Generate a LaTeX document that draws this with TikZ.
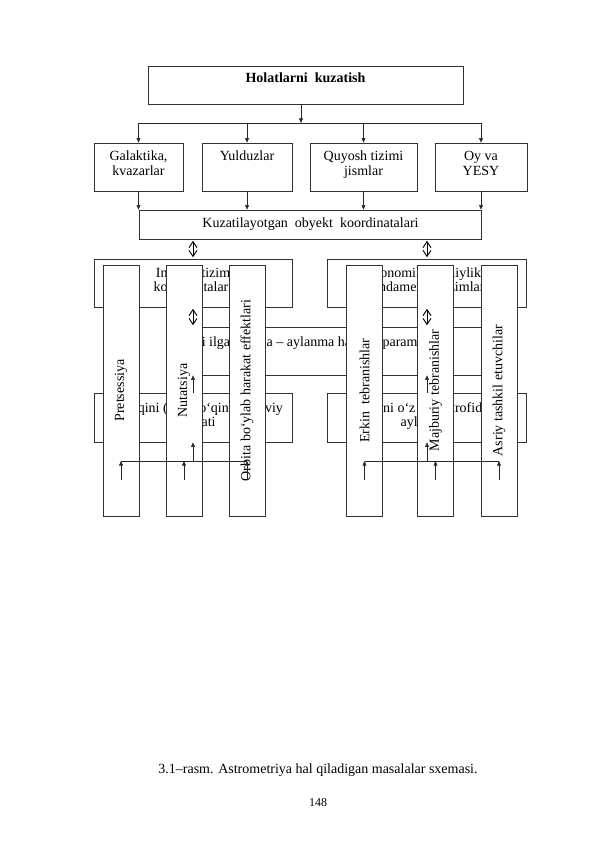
\documentclass[tikz,border=0pt]{standalone}
\usepackage{fontspec}
\setmainfont{Liberation Serif}
\usetikzlibrary{arrows.meta}
\begin{document}
\begin{tikzpicture}[x=1pt,y=-1pt,
  box/.style={draw=black!80, line width=0.7pt, fill=white, inner sep=0pt},
  vbox/.style={box, minimum width=36pt, minimum height=251pt},
  txt/.style={inner sep=0pt, anchor=base, font=\fontsize{14}{16}\selectfont},
  vtxt/.style={inner sep=0pt, anchor=center, rotate=90, font=\fontsize{14}{16}\selectfont},
  arr/.style={draw=black!85, line width=0.6pt, -{Triangle[length=4.5pt,width=3.8pt]}},
  dbl/.style={draw=black, line width=0.9pt, shorten <=1.5pt, shorten >=1.5pt,
    {Straight Barb[length=6pt,width=8pt]}-{Straight Barb[length=6pt,width=8pt]}},
  ln/.style={draw=black!85, line width=0.6pt}
]
\useasboundingbox[fill=white] (0,0) rectangle (596,842);

% ---- top part
\node[box, minimum width=315pt, minimum height=38pt] (top) at (305.5,85) {};
\node[txt, font=\bfseries\fontsize{14}{16}\selectfont] (tTop) at (305.5,83) {Holatlarni~~kuzatish};

\node[box, minimum width=89pt, minimum height=48pt] (gal) at (138.5,167) {};
\node[box, minimum width=90pt, minimum height=48pt] (yul) at (247,167) {};
\node[box, minimum width=107pt, minimum height=48pt] (quy) at (363.5,167) {};
\node[box, minimum width=92pt, minimum height=48pt] (oy) at (481,167) {};
\node[txt] (tGal1) at (138.5,161) {Galaktika,};
\node[txt] (tGal2) at (138.5,175.5) {kvazarlar};
\node[txt] (tYul) at (247,161) {Yulduzlar};
\node[txt] (tQuy1) at (363.5,161) {Quyosh tizimi};
\node[txt] (tQuy2) at (363.5,175.5) {jismlar};
\node[txt] (tOy1) at (481,161) {Oy va};
\node[txt] (tOy2) at (481,175.5) {YESY};

\node[box, minimum width=342pt, minimum height=29pt] (kuz) at (310,224.5) {};
\node[txt] (tKuz) at (310.5,227.5) {Kuzatilayotgan~~obyekt~~koordinatalari};

\coordinate (busL) at (138.5,123);
\coordinate (busR) at (481,123);
\draw[arr] (top.south -| 301,0) -- (301,123);
\draw[ln] (busL) -- (busR);
\draw[arr] (gal.north |- busL) -- (gal.north);
\draw[arr] (yul.north |- busL) -- (yul.north);
\draw[arr] (quy.north |- busL) -- (quy.north);
\draw[arr] (oy.north |- busL) -- (oy.north);
\draw[arr] (gal.south) -- (gal.south |- kuz.north);
\draw[arr] (yul.south) -- (yul.south |- kuz.north);
\draw[arr] (quy.south) -- (quy.south |- kuz.north);
\draw[arr] (oy.south) -- (oy.south |- kuz.north);

% ---- lower horizontal boxes
\node[box, minimum width=198pt, minimum height=48pt] (inL) at (193,283) {};
\node[box, minimum width=199pt, minimum height=48pt] (inR) at (426.5,283) {};
\node[txt] (tInL1) at (193,277.5) {Inersial tizim};
\node[txt] (tInL2) at (193,291.5) {koordinatalari};
\node[txt] (tInR1) at (426,277.5) {Astronomik doimiyliklar};
\node[txt] (tInR2) at (426,291.5) {fundamental tizimlar};

\node[box, minimum width=332pt, minimum height=48pt] (mid) at (334,351) {};
\node[txt, anchor=base west] (tMid) at (175,346) {Yerni ilgarilanma – aylanma harakat parametrlari};

\node[box, minimum width=198pt, minimum height=49pt] (botL) at (193,417.5) {};
\node[box, minimum width=199pt, minimum height=49pt] (botR) at (426.5,417.5) {};
\node[txt] (tBotL1) at (193,412) {Yer o‘qini (olam o‘qini) fazoviy};
\node[txt] (tBotL2) at (193,426.5) {harakati};
\node[txt] (tBotR1) at (426,412) {Yerni o‘z o‘qi atrofida};
\node[txt] (tBotR2) at (426,426.5) {aylanishi};

% ---- vertical boxes
\node[vbox] (pre) at (121,390.5) {};
\node[vbox] (nut) at (184,390.5) {};
\node[vbox] (orb) at (247,390.5) {};
\node[vbox] (erk) at (364.5,390.5) {};
\node[vbox] (maj) at (435.5,390.5) {};
\node[vbox] (asr) at (499,390.5) {};
\node[vtxt] (tPre) at (pre) {Pretsessiya};
\node[vtxt] (tNut) at (nut) {Nutatsiya};
\node[vtxt] (tOrb) at (orb) {Orbita bo‘ylab harakat effektlari};
\node[vtxt] (tErk) at (erk) {Erkin~~tebranishlar};
\node[vtxt] (tMaj) at (maj) {Majburiy tebranishlar};
\node[vtxt] (tAsr) at (asr) {Asriy tashkil etuvchilar};

% ---- connectors between horizontal boxes
\coordinate (cL) at (193,0);
\coordinate (cR) at (427,0);
\draw[dbl] (kuz.south -| cL) -- (inL.north -| cL);
\draw[dbl] (kuz.south -| cR) -- (inR.north -| cR);
\draw[dbl] (inL.south -| cL) -- (mid.north -| cL);
\draw[dbl] (inR.south -| cR) -- (mid.north -| cR);
\draw[arr] (botL.north -| cL) -- (mid.south -| cL);
\draw[arr] (botR.north -| cR) -- (mid.south -| cR);

% ---- bottom buses
\coordinate (bbL) at (121,461);
\coordinate (bbR) at (499,461);
\draw[ln] (bbL) -- (247,461);
\draw[ln] (364.5,461) -- (bbR);
\draw[arr] (121,480) -- (bbL);
\draw[arr] (184,480) -- (184,461);
\draw[arr] (247,480) -- (247,461);
\draw[arr] (364.5,480) -- (364.5,461);
\draw[arr] (435.5,480) -- (435.5,461);
\draw[arr] (499,480) -- (bbR);
\draw[arr] (cL |- bbL) -- (botL.south -| cL);
\draw[arr] (cR |- bbR) -- (botR.south -| cR);

% ---- caption
\node[txt] (cap) at (318,773) {3.1–rasm. Astrometriya hal qiladigan masalalar sxemasi.};
\node[txt, font=\fontsize{12}{14}\selectfont] (pnum) at (318,806) {148};
\end{tikzpicture}
\end{document}
